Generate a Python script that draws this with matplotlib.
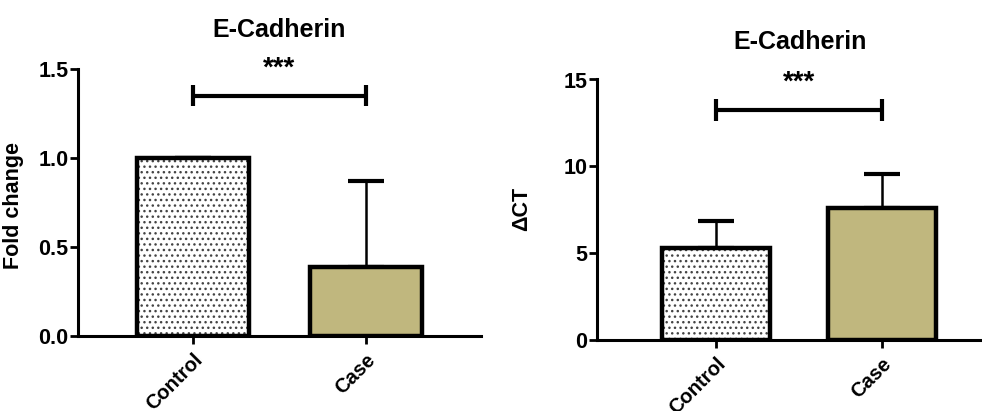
import numpy as np
import matplotlib
matplotlib.use('Agg')
import matplotlib.pyplot as plt

plt.rcParams['font.family'] = ['Liberation Sans', 'DejaVu Sans']
plt.rcParams['font.weight'] = 'bold'
plt.rcParams['hatch.linewidth'] = 1.0

# data
groups = ['Control', 'Case']
fold_mean = [1.0, 0.39]
fold_err = [0.0, 0.48]
dct_mean = [5.3, 7.6]
dct_err = [1.55, 1.95]
fold_sig = 1.35
dct_sig = 13.25
sig_text = '***'

case_color = '#C0B77E'


def panel(ax, means, errs, sig_y, cap_h, ylim, yticks, ticklabels, title, title_pad):
    x = np.arange(len(groups))
    # error bars (upper only)
    ax.errorbar(x, means, yerr=[np.zeros(len(errs)), errs], fmt='none',
                ecolor='black', elinewidth=1.8, capsize=13, capthick=3, zorder=1)
    # dotted control bar: hatch in grey, outline in black
    ax.bar(x[0], means[0], width=0.65, color='white', edgecolor='#444444',
           hatch='...', linewidth=0, zorder=2)
    ax.bar(x[0], means[0], width=0.65, color='none', edgecolor='black',
           linewidth=3.2, zorder=3)
    ax.bar(x[1], means[1], width=0.65, color=case_color, edgecolor='black',
           linewidth=3.2, zorder=3)

    # significance bracket
    ax.plot([0, 1], [sig_y, sig_y], color='black', lw=3, solid_capstyle='butt', zorder=4)
    ax.plot([0, 0], [sig_y - cap_h, sig_y + cap_h], color='black', lw=3,
            solid_capstyle='butt', zorder=4)
    ax.plot([1, 1], [sig_y - cap_h, sig_y + cap_h], color='black', lw=3,
            solid_capstyle='butt', zorder=4)
    ax.text(0.5, sig_y + cap_h * 1.3, sig_text, ha='center', va='bottom',
            fontsize=20, fontweight='bold')

    ax.set_ylim(*ylim)
    ax.set_yticks(yticks)
    ax.set_yticklabels(ticklabels)
    ax.set_xticks(x)
    ax.set_xticklabels(groups, rotation=45, ha='right', rotation_mode='anchor',
                       fontsize=14.5)
    ax.set_title(title, fontsize=18, fontweight='bold', pad=title_pad)
    for s in ['top', 'right']:
        ax.spines[s].set_visible(False)
    for s in ['left', 'bottom']:
        ax.spines[s].set_linewidth(2.2)
    ax.tick_params(axis='y', width=2, length=6, labelsize=15.5, pad=1)
    ax.tick_params(axis='x', width=2, length=6, pad=4)
    for lab in ax.get_xticklabels() + ax.get_yticklabels():
        lab.set_fontweight('bold')


fig = plt.figure(figsize=(9.82, 4.11), dpi=100)
W, H = 982, 411
ax1 = fig.add_axes([78 / W, (H - 336) / H, (481 - 78) / W, (336 - 69) / H])
ax2 = fig.add_axes([597 / W, (H - 340) / H, (1003 - 597) / W, (340 - 79.5) / H])

panel(ax1, fold_mean, fold_err, fold_sig, 0.06, (0, 1.5), [0, 0.5, 1.0, 1.5],
      ['0.0', '0.5', '1.0', '1.5'], 'E-Cadherin', 23)
ax1.set_xlim(-0.665, 1.665)
ax1.set_ylabel('Fold change', fontsize=15.5, fontweight='bold')
ax1.yaxis.set_label_coords(-0.135, 0.49)

panel(ax2, dct_mean, dct_err, dct_sig, 0.65, (0, 15), [0, 5, 10, 15],
      ['0', '5', '10', '15'], 'E-Cadherin', 22)
ax2.set_xlim(-0.717, 1.73)
ax2.set_ylabel('ΔCT', fontsize=15.5, fontweight='bold')
ax2.yaxis.set_label_coords(-0.16, 0.505)

fig.savefig('out.png', dpi=100)
